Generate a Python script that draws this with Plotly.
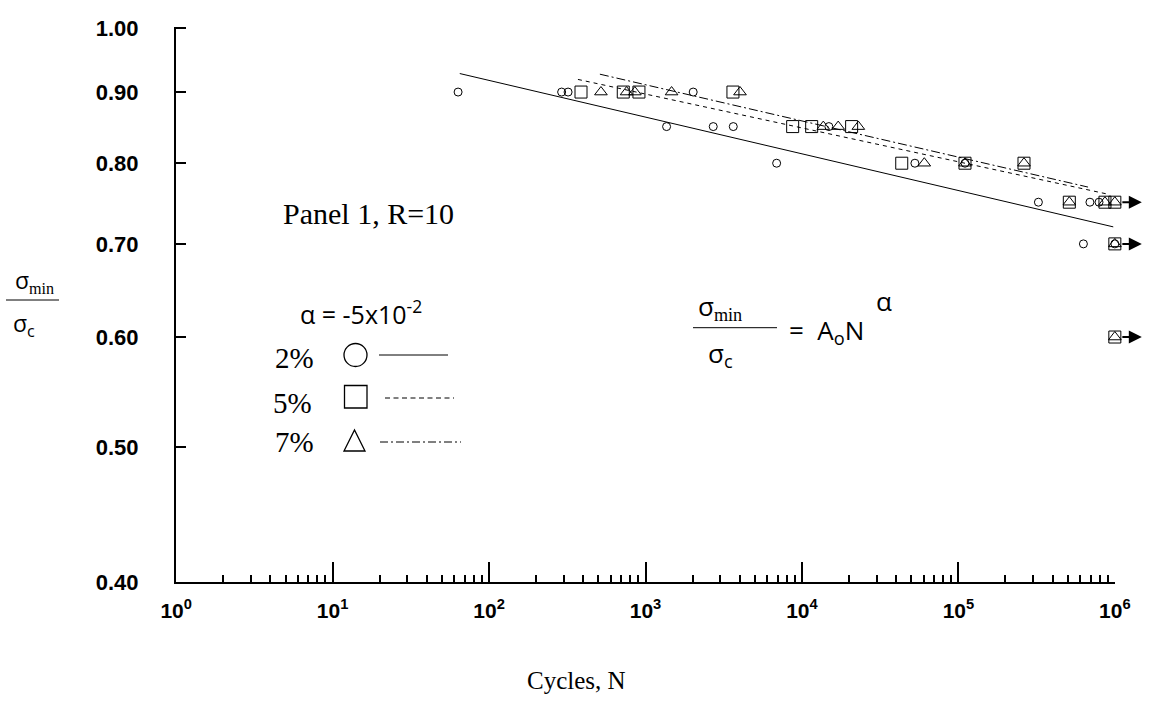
import numpy as np
import plotly.graph_objects as go

# ---------------- data ----------------
N_2PCT = [63.4, 291, 320, 2018, 1364, 2710, 3640, 14860, 6890, 52720, 110200,
          324600, 693000, 792000, 629700, 1000000]
S_2PCT = [0.90, 0.90, 0.90, 0.90, 0.85, 0.85, 0.85, 0.85, 0.80, 0.80, 0.80,
          0.75, 0.75, 0.75, 0.70, 0.70]

N_5PCT = [387, 721, 908, 3622, 8722, 11540, 20780, 43440, 110200, 262600,
          511700, 864600, 1000000, 1000000, 1000000]
S_5PCT = [0.90, 0.90, 0.90, 0.90, 0.85, 0.85, 0.85, 0.80, 0.80, 0.80,
          0.75, 0.75, 0.75, 0.70, 0.60]

N_7PCT = [519, 757, 855, 1468, 4018, 13690, 17050, 22930, 60530, 110200,
          262600, 511700, 864600, 1000000, 1000000, 1000000]
S_7PCT = [0.90, 0.90, 0.90, 0.90, 0.90, 0.85, 0.85, 0.85, 0.80, 0.80,
          0.80, 0.75, 0.75, 0.75, 0.70, 0.60]

# fitted power-law lines (end points)
FIT_N_2PCT = [65.0, 977000]
FIT_S_2PCT = [0.928, 0.720]
FIT_N_5PCT = [370, 905000]
FIT_S_5PCT = [0.919, 0.760]
FIT_N_7PCT = [511, 674000]
FIT_S_7PCT = [0.927, 0.769]

# run-outs (specimens that did not fail)
RUNOUT_N = 1000000
RUNOUT_S = [0.75, 0.70, 0.60]

X_TICKS = [1, 10, 100, 1000, 10000, 100000, 1000000]
X_TICK_TEXT = ["10<sup>0</sup>", "10<sup>1</sup>", "10<sup>2</sup>", "10<sup>3</sup>",
               "10<sup>4</sup>", "10<sup>5</sup>", "10<sup>6</sup>"]
Y_TICKS = [0.40, 0.50, 0.60, 0.70, 0.80, 0.90, 1.00]

# ---------------- layout helpers (pixel -> paper) ----------------
L, R, T, B = 176, 1115, 27, 582
W, H = 1152, 709


def PX(x):
    return (x - L) / (R - L)


def PY(y):
    return (B - y) / (B - T)


SERIF = "Liberation Serif, Times New Roman, serif"
SANS = "Open Sans, Liberation Sans, sans-serif"
BOLD = "Liberation Sans, Arial, sans-serif"

fig = go.Figure()

for n, s, sym, size in [(N_2PCT, S_2PCT, "circle-open", 8),
                        (N_5PCT, S_5PCT, "square-open", 12),
                        (N_7PCT, S_7PCT, "triangle-up-open", 11)]:
    fig.add_trace(go.Scatter(x=n, y=s, mode="markers",
                             marker=dict(symbol=sym, size=size, color="black",
                                         line=dict(width=1, color="black")),
                             cliponaxis=False, hoverinfo="x+y"))

for n, s, dash in [(FIT_N_2PCT, FIT_S_2PCT, "solid"),
                   (FIT_N_5PCT, FIT_S_5PCT, "4px,4px"),
                   (FIT_N_7PCT, FIT_S_7PCT, "9px,3px,2px,3px")]:
    fig.add_trace(go.Scatter(x=n, y=s, mode="lines",
                             line=dict(color="black", width=1, dash=dash),
                             hoverinfo="skip"))

annotations = []
# run-out arrows
for s in RUNOUT_S:
    annotations.append(dict(x=np.log10(RUNOUT_N), y=np.log10(s), xref="x", yref="y",
                            text="", showarrow=True, arrowhead=2, arrowsize=1.3,
                            arrowwidth=2, arrowcolor="black", xshift=27,
                            ax=-21, ay=0, axref="pixel", ayref="pixel"))


def txt(x, y, text, size, family, xanchor="center", yanchor="middle"):
    annotations.append(dict(x=PX(x), y=PY(y), xref="paper", yref="paper",
                            text=text, showarrow=False, xanchor=xanchor,
                            yanchor=yanchor,
                            font=dict(size=size, family=family, color="black")))


MIN = "<sub><span style='font-family:Liberation Serif'>min</span></sub>"

txt(368, 213, "Panel 1, R=10", 30, SERIF)
txt(361, 312, "α = -5x10<sup>-2</sup>", 25, SANS)
txt(294, 358, "2%", 29, SERIF)
txt(292, 403, "5%", 29, SERIF)
txt(294, 442, "7%", 29, SERIF)
txt(576, 680, "Cycles, N", 25, SERIF)
# formula
txt(720, 306, "σ" + MIN, 26, SANS)
txt(720, 354, "σ<sub>c</sub>", 26, SANS)
txt(826, 331, "=  A<sub>o</sub>N", 26, SANS)
txt(884, 301, "α", 26, SANS)
# y-axis title
txt(34, 280, "σ" + MIN, 23, SANS)
txt(24, 324, "σ<sub>c</sub>", 23, SANS)

shapes = [
    # fraction bars
    dict(type="line", xref="paper", yref="paper", x0=PX(693), x1=PX(777),
         y0=PY(327.7), y1=PY(327.7), line=dict(color="black", width=1)),
    dict(type="line", xref="paper", yref="paper", x0=PX(6), x1=PX(59),
         y0=PY(300), y1=PY(300), line=dict(color="black", width=1)),
    # legend symbols
    dict(type="circle", xref="paper", yref="paper", x0=PX(344), x1=PX(367),
         y0=PY(366.5), y1=PY(343.5), line=dict(color="black", width=1.3)),
    dict(type="line", xref="paper", yref="paper", x0=PX(379), x1=PX(448),
         y0=PY(355), y1=PY(355), line=dict(color="black", width=1)),
    dict(type="rect", xref="paper", yref="paper", x0=PX(344.5), x1=PX(367),
         y0=PY(408), y1=PY(385.5), line=dict(color="black", width=1.3)),
    dict(type="line", xref="paper", yref="paper", x0=PX(385), x1=PX(454),
         y0=PY(398), y1=PY(398), line=dict(color="black", width=1, dash="5px,3.5px")),
    dict(type="path", xref="paper", yref="paper",
         path=f"M {PX(344)} {PY(451)} L {PX(365)} {PY(451)} L {PX(354.5)} {PY(430)} Z",
         line=dict(color="black", width=1.3)),
    dict(type="line", xref="paper", yref="paper", x0=PX(380), x1=PX(461),
         y0=PY(442), y1=PY(442), line=dict(color="black", width=1,
                                           dash="8px,3px,2px,3px")),
]

minor_vals = [m * 10 ** d for d in range(6) for m in range(2, 10)]

fig.update_layout(
    width=W, height=H,
    margin=dict(l=L, r=W - R, t=T, b=H - B),
    paper_bgcolor="white", plot_bgcolor="white",
    showlegend=False,
    annotations=annotations, shapes=shapes,
    xaxis=dict(type="log", range=[-0.001, 6.001], showline=True, linecolor="black",
               linewidth=2, ticks="inside", ticklen=20, tickwidth=1.5,
               tickcolor="black", tickvals=X_TICKS, ticktext=X_TICK_TEXT,
               tickfont=dict(family=BOLD, size=21, color="black", weight="bold"),
               ticklabelstandoff=9, showgrid=False, zeroline=False,
               minor=dict(tickvals=minor_vals, ticks="inside", ticklen=7,
                          tickwidth=1.5, tickcolor="black", showgrid=False)),
    yaxis=dict(type="log", range=[np.log10(0.4), 0.001], showline=True,
               linecolor="black", linewidth=2, ticks="inside", ticklen=10,
               tickwidth=2, tickcolor="black", tickvals=Y_TICKS, tickformat=".2f",
               tickfont=dict(family=BOLD, size=22, color="black", weight="bold"),
               ticklabelstandoff=31, showgrid=False, zeroline=False),
)

fig.write_html("out.html")
